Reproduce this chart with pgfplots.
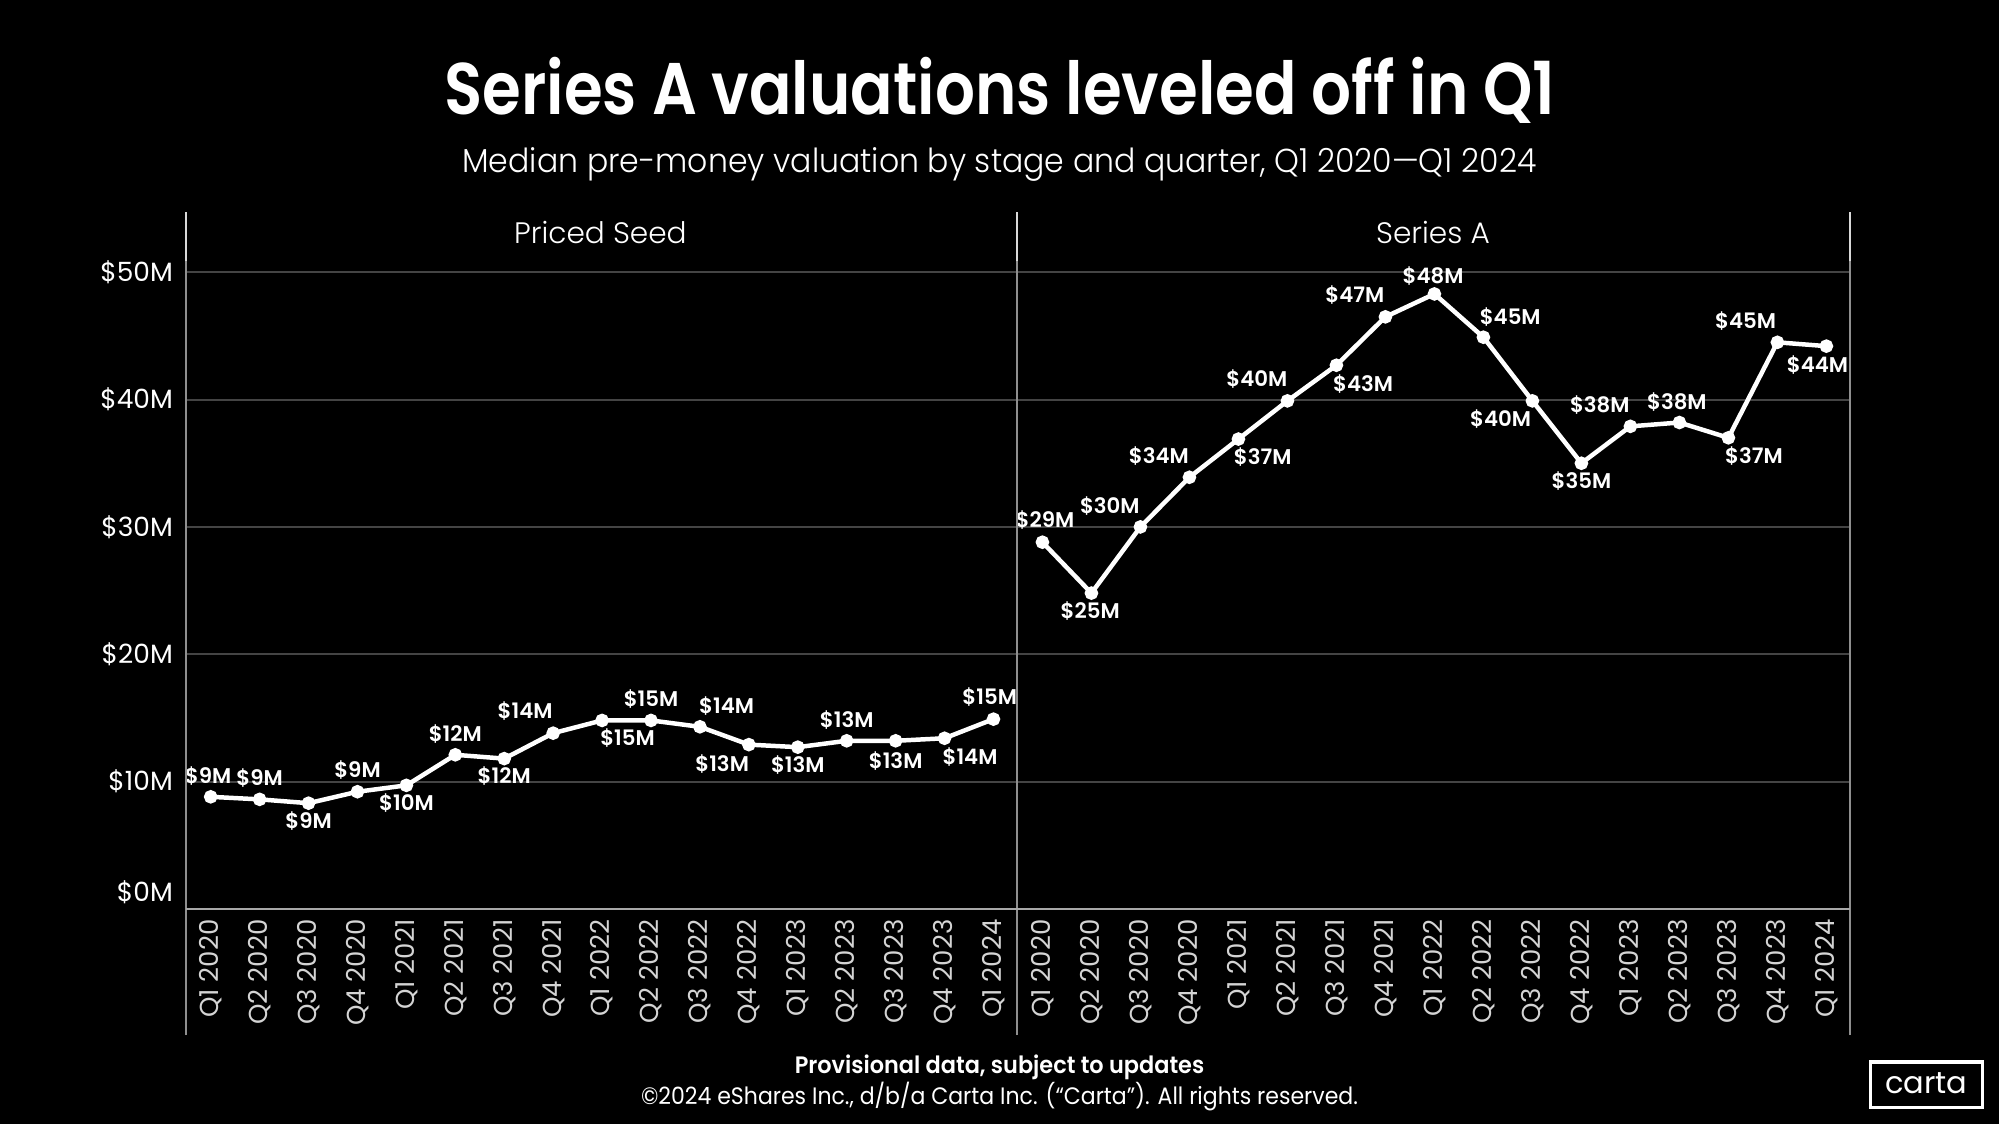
\documentclass[border=0pt]{standalone}
\usepackage{fontspec}
\setmainfont{Poppins}
\newfontfamily\poplight{Poppins}[UprightFont={* Light}]
\newfontfamily\popsemi{Poppins}[UprightFont={* SemiBold}]
\usepackage{graphicx}
\usepackage{pgfplots}
\pgfplotsset{compat=1.18}
\usepackage{pgfplotstable}
\definecolor{gridgray}{HTML}{444444}
\definecolor{axgray}{HTML}{A8A8A8}
\definecolor{vgray}{HTML}{8F8F8F}
\definecolor{tickgray}{HTML}{D4D4D4}

% x, y = value; dx, dy = label offset in px of the picture
\pgfplotstableread{
x y dx dy lab
0 8.8 -2 16 9
1 8.6 0 17 9
2 8.3 0 -14 9
3 9.2 0 17 9
4 9.7 0 -14 10
5 12.1 0 16 12
6 11.8 0 -14 12
7 13.8 -22 17 14
8 14.8 20 -14 15
9 14.8 0 17 15
10 14.3 21 16 14
11 12.9 -21 -15 13
12 12.7 0 -14 13
13 13.2 0 16 13
14 13.2 0 -16 13
15 13.4 20 -15 14
16 14.9 -3 17 15
}\seed

\pgfplotstableread{
x y dx dy lab
0 28.8 2 17 29
1 24.8 -1 -14 25
2 30.0 -24 16 30
3 33.9 -24 17 34
4 36.9 19 -14 37
5 39.9 -24 17 40
6 42.7 21 -15 43
7 46.5 -24 17 47
8 48.3 -1 14 48
9 44.9 21 16 45
10 39.9 -25 -14 40
11 35.0 0 -14 35
12 37.9 -24 17 38
13 38.2 -2 16 38
14 37.0 20 -14 37
15 44.5 -25 17 45
16 44.2 -7 -15 44
}\seriesa

\pgfplotsset{
  panel/.style={
    scale only axis, width=6.52cm, height=5.06cm,
    xmin=-0.5, xmax=16.5, ymin=0, ymax=50.7,
    axis line style={draw=none},
    tick style={draw=none},
    xtick={0,...,16},
    xticklabels={Q1 2020,Q2 2020,Q3 2020,Q4 2020,Q1 2021,Q2 2021,Q3 2021,Q4 2021,Q1 2022,Q2 2022,Q3 2022,Q4 2022,Q1 2023,Q2 2023,Q3 2023,Q4 2023,Q1 2024},
    xticklabel style={rotate=90, anchor=east, inner sep=0pt, font=\fontsize{5.8}{6}\selectfont, text=tickgray},
    xticklabel shift=2.2pt,
    ytick={10,20,30,40,50},
    ymajorgrids, major grid style={gridgray, line width=0.45pt},
    yticklabel style={anchor=east, inner sep=0pt, font=\fontsize{5.9}{7}\selectfont, text=white},
    yticklabel shift=2.8pt,
    clip=false,
  },
  valline/.style={white, line width=1pt, mark=*, mark size=1pt, mark options={fill=white, draw=white}},
  vallabels/.style={only marks, mark=*, mark size=0pt, mark options={draw=none, fill=none},
    nodes near coords={\$\pgfplotspointmeta M},
    point meta=explicit symbolic,
    every node near coord/.style={anchor=center, inner sep=0pt,
      font=\popsemi\fontsize{4.75}{5}\selectfont, text=white}},
}

\begin{document}
\begin{tikzpicture}[x=0.01cm, y=0.01cm]
\fill[black] (0,0) rectangle (1568,882);
\useasboundingbox (0,0) rectangle (1568,882);

% title & subtitle
\node[anchor=base, text=white, inner sep=0pt] at (784.5,792) {\resizebox{8.71cm}{\height}{\popsemi\fontsize{16.3}{18}\selectfont Series A valuations leveled off in Q1}};
\node[anchor=base, text=white, inner sep=0pt] at (784,747) {\resizebox{8.42cm}{\height}{\poplight\fontsize{7.4}{9}\selectfont Median pre-money valuation by stage and quarter, Q1 2020—Q1 2024}};

% panel headers
\node[text=white, inner sep=0pt, font=\poplight\fontsize{6.6}{8}\selectfont] at (471,700) {Priced Seed};
\node[text=white, inner sep=0pt, font=\poplight\fontsize{6.6}{8}\selectfont] at (1124,700) {Series A};

\begin{axis}[panel, at={(1.46cm,1.69cm)}, anchor=south west,
  yticklabels={\$10M,\$20M,\$30M,\$40M,\$50M},
  extra y ticks={1.3}, extra y tick labels={\$0M},
  extra y tick style={grid=none, tick style={draw=none}}]
\addplot[valline] table[x=x, y=y] {\seed};
\addplot[vallabels] table[x expr=\thisrow{x}+\thisrow{dx}/38.44, y expr=\thisrow{y}+\thisrow{dy}/9.98, meta=lab] {\seed};
\end{axis}

\begin{axis}[panel, at={(7.98cm,1.69cm)}, anchor=south west, width=6.53cm, yticklabels={}]
\addplot[valline] table[x=x, y=y] {\seriesa};
\addplot[vallabels] table[x expr=\thisrow{x}+\thisrow{dx}/38.44, y expr=\thisrow{y}+\thisrow{dy}/9.98, meta=lab] {\seriesa};
\end{axis}

% frame lines
\foreach \xx in {146,798,1451} {
  \draw[vgray, line width=0.5pt] (\xx,70) -- (\xx,677);
  \draw[white!85!black, line width=0.5pt] (\xx,677) -- (\xx,716);
}
\draw[axgray, line width=0.55pt] (146,169) -- (1451,169);

% footer
\node[anchor=base, text=white, inner sep=0pt] at (784,40) {\resizebox{3.21cm}{\height}{\popsemi\fontsize{5.3}{6}\selectfont Provisional data, subject to updates}};
\node[anchor=base, text=white, inner sep=0pt] at (784,16) {\resizebox{5.62cm}{\height}{\fontsize{5.3}{6}\selectfont ©2024 eShares Inc., d/b/a Carta Inc. (“Carta”). All rights reserved.}};

% logo
\draw[white, line width=0.7pt] (1467,13) rectangle (1555,49);
\node[text=white, inner sep=0pt, font=\fontsize{6.8}{8}\selectfont] at (1511,32) {carta};
\end{tikzpicture}
\end{document}
